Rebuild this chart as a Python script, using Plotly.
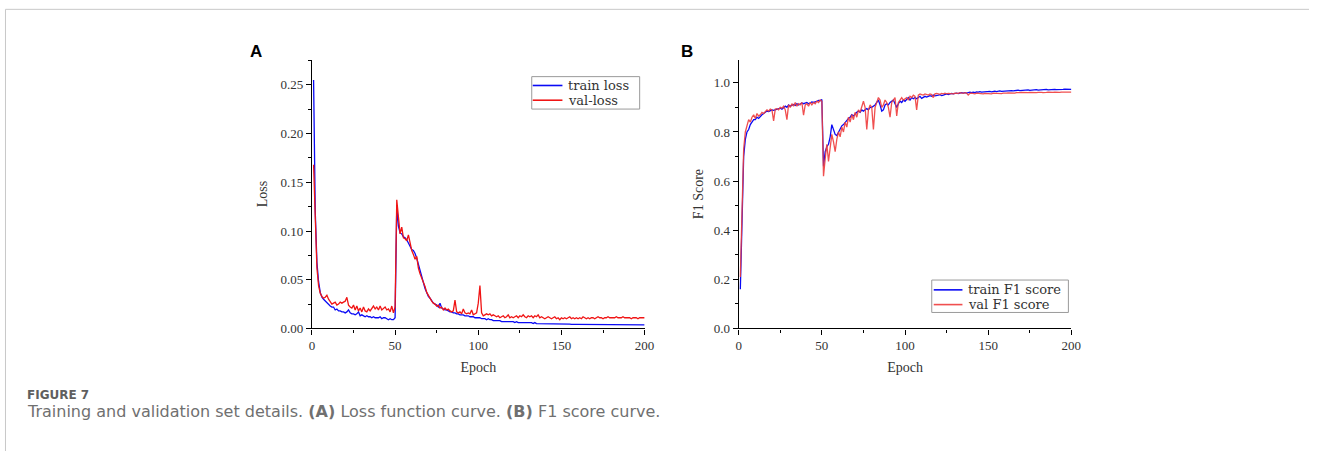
import plotly.graph_objects as go

# ---------------- data ----------------
epochs = list(range(1, 201))

train_loss = [
    0.255, 0.120, 0.068, 0.048, 0.037, 0.032, 0.030, 0.028, 0.026, 0.025,
    0.023, 0.022, 0.022, 0.019, 0.020, 0.018, 0.018, 0.017, 0.017, 0.016,
    0.017, 0.019, 0.016, 0.015, 0.015, 0.014, 0.015, 0.017, 0.013, 0.014,
    0.013, 0.012, 0.013, 0.012, 0.012, 0.011, 0.012, 0.011, 0.011, 0.011,
    0.012, 0.010, 0.011, 0.011, 0.010, 0.009, 0.010, 0.009, 0.009, 0.011,
    0.125, 0.105, 0.098, 0.097, 0.094, 0.093, 0.091, 0.088, 0.084, 0.081,
    0.080, 0.077, 0.072, 0.066, 0.058, 0.052, 0.046, 0.041, 0.037, 0.033,
    0.031, 0.028, 0.026, 0.025, 0.024, 0.022, 0.026, 0.021, 0.020, 0.019,
    0.019, 0.018, 0.017, 0.017, 0.016, 0.016, 0.015, 0.015, 0.014, 0.014,
    0.014, 0.013, 0.013, 0.013, 0.012, 0.012, 0.012, 0.011, 0.011, 0.011,
    0.011, 0.010, 0.010, 0.010, 0.009, 0.010, 0.009, 0.009, 0.008, 0.008,
    0.008, 0.008, 0.008, 0.007, 0.007, 0.007, 0.007, 0.007, 0.007, 0.007,
    0.007, 0.006, 0.007, 0.006, 0.006, 0.006, 0.006, 0.006, 0.006, 0.006,
    0.006, 0.006, 0.005, 0.006, 0.005, 0.005, 0.005, 0.005, 0.005, 0.005,
    0.005, 0.005, 0.005, 0.005, 0.005, 0.005, 0.005, 0.0045, 0.005, 0.005,
    0.0045, 0.005, 0.0045, 0.0045, 0.0045, 0.0042, 0.0045, 0.0042, 0.0042, 0.0042,
    0.0042, 0.004, 0.0042, 0.004, 0.004, 0.004, 0.0042, 0.004, 0.004, 0.004,
    0.004, 0.0038, 0.004, 0.0038, 0.0038, 0.004, 0.0038, 0.0038, 0.0037, 0.0038,
    0.0037, 0.0038, 0.0037, 0.0037, 0.0038, 0.0037, 0.0036, 0.0037, 0.0037, 0.0036,
    0.0037, 0.0036, 0.0037, 0.0036, 0.0036, 0.0037, 0.0036, 0.0036, 0.0036, 0.0036,
]

val_loss = [
    0.168, 0.100, 0.062, 0.044, 0.036, 0.033, 0.031, 0.032, 0.034, 0.030,
    0.027, 0.025, 0.026, 0.027, 0.024, 0.025, 0.027, 0.026, 0.027, 0.028,
    0.032, 0.024, 0.022, 0.021, 0.024, 0.019, 0.023, 0.018, 0.021, 0.017,
    0.022, 0.018, 0.017, 0.020, 0.018, 0.020, 0.023, 0.020, 0.022, 0.019,
    0.023, 0.019, 0.021, 0.022, 0.019, 0.020, 0.017, 0.023, 0.016, 0.022,
    0.132, 0.110, 0.097, 0.104, 0.093, 0.092, 0.090, 0.096, 0.086, 0.080,
    0.076, 0.071, 0.074, 0.062, 0.056, 0.052, 0.047, 0.043, 0.037, 0.034,
    0.030, 0.028, 0.026, 0.025, 0.023, 0.024, 0.021, 0.022, 0.019, 0.021,
    0.019, 0.020, 0.018, 0.017, 0.018, 0.029, 0.017, 0.016, 0.017, 0.015,
    0.020, 0.016, 0.015, 0.016, 0.015, 0.019, 0.014, 0.015, 0.016, 0.026,
    0.044, 0.016, 0.013, 0.014, 0.015, 0.014, 0.015, 0.013, 0.014, 0.013,
    0.012, 0.013, 0.011, 0.012, 0.013, 0.011, 0.012, 0.014, 0.011, 0.012,
    0.011, 0.012, 0.013, 0.011, 0.013, 0.012, 0.014, 0.012, 0.011, 0.013,
    0.012, 0.013, 0.011, 0.013, 0.012, 0.014, 0.011, 0.012, 0.011, 0.010,
    0.011, 0.012, 0.011, 0.010, 0.011, 0.012, 0.010, 0.011, 0.009, 0.011,
    0.010, 0.011, 0.010, 0.011, 0.012, 0.010, 0.011, 0.010, 0.011, 0.010,
    0.011, 0.010, 0.012, 0.011, 0.010, 0.011, 0.010, 0.011, 0.011, 0.010,
    0.011, 0.012, 0.011, 0.011, 0.010, 0.011, 0.011, 0.012, 0.011, 0.011,
    0.011, 0.011, 0.012, 0.011, 0.011, 0.011, 0.012, 0.011, 0.011, 0.011,
    0.011, 0.010, 0.011, 0.011, 0.011, 0.010, 0.011, 0.011, 0.011, 0.011,
]

train_f1 = [
    0.16, 0.42, 0.70, 0.77, 0.80, 0.81, 0.83, 0.84, 0.85, 0.85,
    0.86, 0.855, 0.865, 0.87, 0.875, 0.88, 0.885, 0.883, 0.887, 0.89,
    0.888, 0.89, 0.892, 0.895, 0.897, 0.893, 0.90, 0.905, 0.90, 0.91,
    0.905, 0.91, 0.912, 0.908, 0.915, 0.91, 0.913, 0.918, 0.915, 0.917,
    0.92, 0.915, 0.918, 0.922, 0.92, 0.924, 0.925, 0.928, 0.927, 0.932,
    0.66, 0.72, 0.74, 0.75, 0.78, 0.83, 0.81, 0.79, 0.785, 0.80,
    0.815, 0.825, 0.83, 0.84, 0.85, 0.855, 0.86, 0.87, 0.865, 0.875,
    0.88, 0.885, 0.88, 0.89, 0.885, 0.89, 0.895, 0.89, 0.90, 0.90,
    0.905, 0.91, 0.92, 0.93, 0.91, 0.885, 0.89, 0.91, 0.915, 0.91,
    0.92, 0.925, 0.93, 0.915, 0.90, 0.915, 0.925, 0.92, 0.93, 0.925,
    0.935, 0.94, 0.93, 0.94, 0.935, 0.94, 0.935, 0.94, 0.945, 0.937,
    0.94, 0.945, 0.942, 0.945, 0.948, 0.945, 0.95, 0.947, 0.95, 0.95,
    0.952, 0.948, 0.95, 0.953, 0.955, 0.952, 0.955, 0.957, 0.955, 0.957,
    0.958, 0.956, 0.958, 0.96, 0.958, 0.96, 0.958, 0.96, 0.962, 0.96,
    0.962, 0.96, 0.963, 0.962, 0.964, 0.962, 0.963, 0.965, 0.963, 0.964,
    0.965, 0.963, 0.965, 0.966, 0.964, 0.966, 0.967, 0.965, 0.966, 0.967,
    0.966, 0.968, 0.967, 0.968, 0.967, 0.969, 0.968, 0.970, 0.968, 0.969,
    0.970, 0.969, 0.970, 0.971, 0.969, 0.970, 0.971, 0.970, 0.972, 0.970,
    0.971, 0.972, 0.971, 0.972, 0.973, 0.971, 0.972, 0.974, 0.972, 0.973,
    0.972, 0.973, 0.974, 0.972, 0.973, 0.974, 0.973, 0.972, 0.973, 0.973,
]

val_f1 = [
    0.21, 0.50, 0.73, 0.80, 0.83, 0.85, 0.84, 0.86, 0.87, 0.855,
    0.875, 0.865, 0.87, 0.88, 0.875, 0.885, 0.89, 0.885, 0.893, 0.89,
    0.845, 0.893, 0.895, 0.89, 0.90, 0.897, 0.905, 0.89, 0.85, 0.91,
    0.90, 0.915, 0.905, 0.92, 0.905, 0.915, 0.91, 0.92, 0.868, 0.91,
    0.915, 0.905, 0.92, 0.91, 0.92, 0.915, 0.925, 0.92, 0.93, 0.925,
    0.62, 0.69, 0.75, 0.68, 0.73, 0.79, 0.76, 0.72, 0.77, 0.80,
    0.78, 0.82, 0.80, 0.84, 0.82, 0.86, 0.84, 0.87, 0.85, 0.88,
    0.86, 0.89, 0.88, 0.90, 0.925, 0.90, 0.81, 0.89, 0.91, 0.90,
    0.81, 0.90, 0.92, 0.94, 0.93, 0.90, 0.91, 0.93, 0.92, 0.90,
    0.86, 0.92, 0.93, 0.94, 0.865, 0.92, 0.93, 0.94, 0.93, 0.935,
    0.94, 0.93, 0.945, 0.94, 0.95, 0.945, 0.89, 0.95, 0.955, 0.952,
    0.95, 0.955, 0.953, 0.95, 0.955, 0.952, 0.94, 0.955, 0.957, 0.955,
    0.953, 0.957, 0.955, 0.958, 0.955, 0.957, 0.956, 0.958, 0.955, 0.958,
    0.956, 0.957, 0.960, 0.958, 0.957, 0.960, 0.958, 0.950, 0.957, 0.958,
    0.957, 0.955, 0.958, 0.957, 0.956, 0.958, 0.955, 0.957, 0.956, 0.958,
    0.957, 0.955, 0.958, 0.957, 0.956, 0.958, 0.957, 0.956, 0.958, 0.957,
    0.958, 0.959, 0.958, 0.960, 0.959, 0.958, 0.960, 0.959, 0.960, 0.961,
    0.960, 0.959, 0.961, 0.960, 0.961, 0.960, 0.962, 0.961, 0.960, 0.961,
    0.962, 0.961, 0.960, 0.962, 0.961, 0.962, 0.961, 0.962, 0.961, 0.962,
    0.961, 0.962, 0.961, 0.962, 0.962, 0.961, 0.962, 0.962, 0.961, 0.962,
]

loss_ticks = [0.00, 0.05, 0.10, 0.15, 0.20, 0.25]
loss_tick_text = ["0.00", "0.05", "0.10", "0.15", "0.20", "0.25"]
f1_ticks = [0.0, 0.2, 0.4, 0.6, 0.8, 1.0]
f1_tick_text = ["0.0", "0.2", "0.4", "0.6", "0.8", "1.0"]
epoch_ticks = [0, 50, 100, 150, 200]
names_a = ["train loss", "val-loss"]
names_b = ["train F1 score", "val F1 score"]

# ---------------- figure ----------------
W, H = 1319, 459   # reference pixel frame used to place elements (as fractions)
BLUE = "#0a0af5"
RED_A = "#f01414"
RED_B = "rgba(238,60,60,0.9)"

fig = go.Figure()
fig.add_trace(go.Scatter(x=epochs, y=train_loss, name=names_a[0], mode="lines", showlegend=False,
                         line=dict(color=BLUE, width=1.3), xaxis="x", yaxis="y"))
fig.add_trace(go.Scatter(x=epochs, y=val_loss, name=names_a[1], mode="lines", showlegend=False,
                         line=dict(color=RED_A, width=1.3), xaxis="x", yaxis="y"))
fig.add_trace(go.Scatter(x=epochs, y=train_f1, name=names_b[0], mode="lines", showlegend=False,
                         line=dict(color=BLUE, width=1.3), xaxis="x2", yaxis="y2"))
fig.add_trace(go.Scatter(x=epochs, y=val_f1, name=names_b[1], mode="lines", showlegend=False,
                         line=dict(color=RED_B, width=1.3), xaxis="x2", yaxis="y2"))

def px_x(p):
    return p / W

def px_y(p):
    return 1 - p / H

tickfont = dict(family="Liberation Serif", size=13, color="#333")
titlefont = dict(family="Liberation Serif", size=14, color="#333")
legfont = dict(family="DejaVu Serif", size=13, color="#333")

common_axis = dict(showline=True, linecolor="black", linewidth=1.2, ticks="outside",
                   ticklen=5, tickwidth=1.2, tickcolor="black", showgrid=False,
                   zeroline=False, tickfont=tickfont, mirror=False)

y_dom = [px_y(334.3), px_y(60.7)]

fig.update_layout(
    autosize=True,
    margin=dict(l=0, r=0, t=0, b=0),
    paper_bgcolor="white", plot_bgcolor="white",
    showlegend=False,
    xaxis=dict(domain=[px_x(312), px_x(648)], range=[0, 200], tickvals=epoch_ticks,
               anchor="y", title=dict(text="Epoch", font=titlefont, standoff=10),
               minor=dict(ticks="outside", ticklen=3, dtick=25, tickcolor="black", tickwidth=1),
               **common_axis),
    yaxis=dict(domain=y_dom, range=[0, 0.2758], tickvals=loss_ticks, ticktext=loss_tick_text,
               anchor="x", title=dict(text="Loss", font=titlefont, standoff=9),
               minor=dict(ticks="outside", ticklen=3, dtick=0.025, tickcolor="black", tickwidth=1),
               **common_axis),
    xaxis2=dict(domain=[px_x(743), px_x(1079)], range=[0, 200], tickvals=epoch_ticks,
                anchor="y2", title=dict(text="Epoch", font=titlefont, standoff=10),
                minor=dict(ticks="outside", ticklen=3, dtick=25, tickcolor="black", tickwidth=1),
                **common_axis),
    yaxis2=dict(domain=y_dom, range=[0, 1.0944], tickvals=f1_ticks, ticktext=f1_tick_text,
                anchor="x2", title=dict(text="F1 Score", font=titlefont, standoff=6),
                minor=dict(ticks="outside", ticklen=3, dtick=0.1, tickcolor="black", tickwidth=1),
                **common_axis),
)

# legends (box, line samples, labels)
def add_legend(box, names, colors, sample_x, rows, text_x):
    x0, x1, y0, y1 = box
    fig.add_shape(type="rect", xref="paper", yref="paper",
                  x0=px_x(x0), x1=px_x(x1), y0=px_y(y1), y1=px_y(y0),
                  line=dict(color="#9a9a9a", width=1), fillcolor="white", layer="above")
    for name, col, ry in zip(names, colors, rows):
        fig.add_shape(type="line", xref="paper", yref="paper",
                      x0=px_x(sample_x[0]), x1=px_x(sample_x[1]), y0=px_y(ry), y1=px_y(ry),
                      line=dict(color=col, width=1.6), layer="above")
        fig.add_annotation(text=name, x=px_x(text_x), y=px_y(ry), xref="paper", yref="paper",
                           xanchor="left", yanchor="middle", showarrow=False, font=legfont,
                           borderpad=0)

add_legend((534, 643, 78, 111), names_a, [BLUE, RED_A], (535, 565), (87, 102), 570)
add_legend((938, 1076, 285, 318), names_b, [BLUE, RED_B], (940, 969), (295, 310), 974)

# panel letters
fig.add_annotation(text="<b>A</b>", x=px_x(256), y=px_y(52.5), xref="paper", yref="paper",
                   xanchor="center", yanchor="middle", showarrow=False,
                   font=dict(family="Liberation Sans", size=17, color="black"))
fig.add_annotation(text="<b>B</b>", x=px_x(691), y=px_y(52.5), xref="paper", yref="paper",
                   xanchor="center", yanchor="middle", showarrow=False,
                   font=dict(family="Liberation Sans", size=17, color="black"))

# caption
fig.add_annotation(text="<b>FIGURE 7</b>", x=px_x(22), y=px_y(402), xref="paper", yref="paper",
                   xanchor="left", yanchor="middle", showarrow=False,
                   font=dict(family="DejaVu Sans", size=12, color="#5f5f5f"))
fig.add_annotation(text="Training and validation set details. <b>(A)</b> Loss function curve. <b>(B)</b> F1 score curve.",
                   x=px_x(22), y=px_y(419), xref="paper", yref="paper",
                   xanchor="left", yanchor="middle", showarrow=False,
                   font=dict(family="DejaVu Sans", size=16, color="#707070"))

# page frame
fig.add_shape(type="line", xref="paper", yref="paper", x0=px_x(2.5), x1=1, y0=px_y(9.5), y1=px_y(9.5),
              line=dict(color="#c8c8c8", width=1))
fig.add_shape(type="line", xref="paper", yref="paper", x0=px_x(2.5), x1=px_x(2.5), y0=px_y(9.5), y1=0,
              line=dict(color="#c8c8c8", width=1))

fix_page = (
    "document.documentElement.style.margin='0';"
    "document.documentElement.style.overflow='hidden';"
    "document.body.style.margin='0';"
    "document.body.style.overflow='hidden';"
)
fig.write_html("out.html", config={"displayModeBar": False, "responsive": True},
               default_width="100vw", default_height="100vh", post_script=fix_page)
